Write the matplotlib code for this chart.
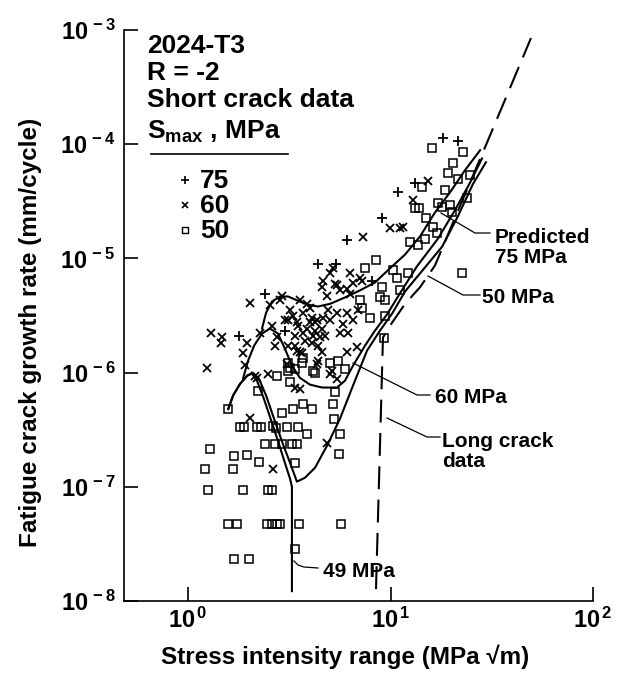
import matplotlib
matplotlib.use("Agg")
import matplotlib.pyplot as plt
from matplotlib.lines import Line2D
from matplotlib.ticker import FuncFormatter, NullLocator, FixedLocator
import numpy as np

plt.rcParams['font.family'] = ['Liberation Sans', 'DejaVu Sans']
plt.rcParams['font.weight'] = 'bold'
plt.rcParams['mathtext.fontset'] = 'custom'
for k in ('rm', 'it', 'bf', 'sf'):
    plt.rcParams['mathtext.' + k] = 'Liberation Sans:bold'

W, H = 641, 674

# short crack data, Smax = 75 MPa (+)
dk_75 = [18.2, 21.5, 10.9, 13.2, 9.08, 6.10, 4.38, 5.38, 8.10, 2.40, 1.79, 3.01]
rate_75 = [1.13e-4, 1.06e-4, 3.8e-5, 4.6e-5, 2.24e-5, 1.44e-5, 8.85e-6, 8.85e-6,
           6.4e-6, 4.9e-6, 2.11e-6, 2.33e-6]

# Smax = 60 MPa (x)
dk_60 = [15.3, 12.9, 11.5, 9.95, 11.1, 7.31, 5.20, 5.03, 6.31, 7.23,
         2.02, 1.30, 1.47, 1.46, 1.24, 1.96, 1.87, 1.91, 2.19, 2.48,
         2.02, 2.63, 4.86, 2.91, 2.85, 3.19, 3.30, 3.12, 3.87, 4.00,
         3.70, 4.10, 4.34, 4.64, 3.87, 4.24, 4.59, 3.70, 4.14, 4.49,
         4.10, 4.38, 4.64, 5.44, 5.63, 6.10, 7.07, 6.31, 5.44, 6.10,
         5.83, 6.53, 5.63, 6.17, 6.91, 2.60, 2.75, 2.69, 3.12, 3.38,
         3.57, 4.59, 6.10, 6.83, 4.38, 5.14, 2.14, 3.08, 2.27, 6.53,
         4.59, 5.32, 3.45, 3.66, 4.34, 5.03, 5.44, 3.38, 3.57, 3.49,
         4.91, 4.00, 3.45, 3.78, 3.38, 4.24, 4.75, 3.01, 5.03, 3.57,
         4.86, 2.54]
rate_60 = [4.8e-5, 3.23e-5, 1.87e-5, 1.83e-5, 1.83e-5, 1.53e-5, 8.3e-6, 7.4e-6, 7.4e-6, 6.4e-6,
           4.1e-6, 2.2e-6, 2.03e-6, 1.8e-6, 1.1e-6, 1.8e-6, 1.47e-6, 1.17e-6, 9.0e-7, 9.8e-7,
           4.0e-7, 1.44e-7, 2.43e-7, 4.7e-6, 4.3e-6, 3.5e-6, 3.16e-6, 2.86e-6, 4.0e-6, 3.65e-6,
           3.3e-6, 3.03e-6, 2.86e-6, 2.98e-6, 2.43e-6, 2.33e-6, 2.43e-6, 2.2e-6, 2.11e-6, 2.03e-6,
           1.83e-6, 1.72e-6, 6.4e-6, 5.8e-6, 5.25e-6, 5.45e-6, 6.7e-6, 4.9e-6, 3.3e-6, 3.35e-6,
           2.69e-6, 2.86e-6, 2.24e-6, 2.2e-6, 3.5e-6, 2.58e-6, 2.03e-6, 1.72e-6, 1.72e-6, 1.72e-6,
           1.5e-6, 1.5e-6, 1.5e-6, 1.66e-6, 1.27e-6, 1.04e-6, 9.4e-7, 1.2e-6, 2.2e-6, 6.15e-6,
           5.6e-6, 6.0e-6, 1.56e-6, 1.47e-6, 1.2e-6, 9.8e-7, 8.85e-7, 7.4e-7, 7.25e-7, 2.58e-6,
           3.5e-6, 2.75e-6, 2.75e-6, 1.91e-6, 2.11e-6, 2.75e-6, 2.11e-6, 2.86e-6, 2.86e-6, 4.3e-6,
           4.7e-6, 3.9e-6]

# Smax = 50 MPa (open squares)
dk_50 = [16.0, 22.8, 20.4, 19.2, 21.5, 24.7, 18.6, 23.9, 17.2, 18.0,
         19.7, 20.1, 14.3, 13.2, 13.8, 15.0, 16.2, 17.0, 12.5, 13.7,
         14.8, 8.48, 7.48, 10.3, 10.8, 12.2, 22.5, 9.08, 11.1, 8.87,
         9.39, 7.07, 7.23, 7.92, 9.29, 9.39, 3.70, 3.66, 5.03, 5.50,
         5.96, 4.14, 2.75, 3.19, 3.12, 3.12, 3.38, 4.24, 3.19, 1.58,
         2.22, 1.81, 1.89, 2.19, 2.29, 2.63, 2.72, 3.08, 3.49, 2.91,
         3.30, 3.70, 4.10, 3.87, 2.40, 2.69, 2.91, 3.26, 3.45, 1.28,
         1.69, 1.96, 2.24, 3.38, 1.21, 1.67, 1.26, 1.87, 2.48, 2.60,
         1.58, 1.75, 2.45, 2.60, 2.75, 2.85, 3.53, 5.70, 1.69, 2.00,
         3.38, 5.20, 5.26, 5.63, 5.57, 5.32]
rate_50 = [9.2e-5, 8.5e-5, 6.8e-5, 5.6e-5, 5.0e-5, 5.35e-5, 3.95e-5, 3.36e-5, 3.03e-5, 2.8e-5,
           2.92e-5, 2.53e-5, 4.2e-5, 2.75e-5, 2.75e-5, 2.24e-5, 1.87e-5, 1.66e-5, 1.38e-5, 1.3e-5,
           1.47e-5, 9.6e-6, 8.2e-6, 7.85e-6, 6.7e-6, 7.5e-6, 7.5e-6, 5.6e-6, 5.25e-6, 4.55e-6,
           4.3e-6, 4.3e-6, 3.7e-6, 3.03e-6, 1.99e-6, 3.16e-6, 1.35e-6, 1.22e-6, 1.22e-6, 1.27e-6,
           1.08e-6, 1.04e-6, 9.4e-7, 1.1e-6, 1.04e-6, 1.22e-6, 1.08e-6, 1.0e-6, 8.2e-7, 4.8e-7,
           6.95e-7, 3.35e-7, 3.35e-7, 3.35e-7, 3.35e-7, 3.4e-7, 3.3e-7, 3.35e-7, 3.35e-7, 4.4e-7,
           4.8e-7, 5.35e-7, 4.8e-7, 2.92e-7, 2.38e-7, 2.38e-7, 2.38e-7, 2.38e-7, 2.38e-7, 2.15e-7,
           1.87e-7, 1.91e-7, 1.66e-7, 1.62e-7, 1.44e-7, 1.44e-7, 9.4e-8, 9.4e-8, 9.4e-8, 9.4e-8,
           4.7e-8, 4.7e-8, 4.7e-8, 4.7e-8, 4.7e-8, 4.7e-8, 4.7e-8, 4.7e-8, 2.33e-8, 2.33e-8,
           2.86e-8, 5.35e-7, 3.95e-7, 2.92e-7, 1.95e-7, 6.7e-7]

# predicted curves
pred75_dk = [2.32, 2.43, 2.60, 2.85, 3.12, 3.45, 3.87, 4.38, 5.03, 5.96,
             7.07, 8.38, 9.95, 11.8, 14.0, 16.6, 19.7, 23.3, 27.7]
pred75_rate = [2.43e-6, 3.35e-6, 4.2e-6, 4.64e-6, 4.64e-6, 4.3e-6, 3.95e-6, 3.79e-6, 4.0e-6, 4.55e-6,
               5.25e-6, 6.15e-6, 8.2e-6, 1.08e-5, 1.56e-5, 2.53e-5, 3.8e-5, 5.9e-5, 8.85e-5]

pred60_dk = [1.87, 1.98, 2.12, 2.32, 2.54, 2.78, 3.01, 3.26, 3.57, 4.00, 4.59, 5.44,
             5.96, 6.53, 7.48, 8.38, 9.61, 11.1, 13.5, 17.2, 20.8, 24.7, 28.3]
pred60_rate = [8.85e-7, 1.27e-6, 1.72e-6, 2.2e-6, 2.43e-6, 2.2e-6, 1.62e-6, 1.15e-6, 9.0e-7, 7.85e-7,
               7.4e-7, 7.4e-7, 8.5e-7, 1.15e-6, 1.72e-6, 2.33e-6, 3.23e-6, 4.9e-6, 8.5e-6, 1.5e-5,
               2.64e-5, 4.6e-5, 7.5e-5]

pred50_dk = [1.58, 1.67, 1.81, 1.96, 2.09, 2.24, 2.43, 2.66, 2.94, 3.23, 3.45, 3.78, 4.24,
             4.86, 5.63, 6.53, 7.66, 8.87, 10.2, 11.8, 14.0, 18.0, 21.5, 25.5, 29.6]
pred50_rate = [4.8e-7, 6.3e-7, 8.0e-7, 9.4e-7, 1.0e-6, 8.85e-7, 6.3e-7, 3.95e-7, 2.38e-7, 1.53e-7,
               1.11e-7, 1.2e-7, 1.47e-7, 2.29e-7, 3.95e-7, 7.7e-7, 1.56e-6, 2.33e-6, 3.3e-6, 5.14e-6,
               7.4e-6, 1.27e-5, 2.33e-5, 4.46e-5, 6.95e-5]

pred49_dk = [1.58, 1.67, 1.81, 1.96, 2.07, 2.19, 2.35, 2.54, 2.78, 3.01, 3.19, 3.26, 3.26]
pred49_rate = [4.8e-7, 6.3e-7, 8.0e-7, 9.4e-7, 9.8e-7, 8.5e-7, 6.15e-7, 4.1e-7, 2.53e-7, 1.62e-7,
               1.18e-7, 1.0e-7, 1.22e-8]

# long crack data
long_dk = [8.48, 9.18, 9.95, 11.8, 14.0, 16.6, 22.0, 29.3, 38.9, 49.4]
long_rate = [1.27e-8, 2.03e-6, 2.58e-6, 4.0e-6, 5.6e-6, 8.7e-6, 2.86e-5, 9.4e-5, 3.1e-4, 8.5e-4]

x_ticks = [1, 10, 100]
y_ticks = [1e-8, 1e-7, 1e-6, 1e-5, 1e-4, 1e-3]

fig = plt.figure(figsize=(W / 100, H / 100), dpi=100)
ax = fig.add_axes([124 / W, 73 / H, (593 - 124) / W, (601 - 30) / H])
ax.set_xscale('log')
ax.set_yscale('log')
ax.set_xlim(0.483, 100)
ax.set_ylim(1e-8, 1e-3)

lw = 1.5
for xs, ys in [(pred75_dk, pred75_rate), (pred60_dk, pred60_rate),
               (pred50_dk, pred50_rate), (pred49_dk, pred49_rate)]:
    ax.plot(xs, ys, color='black', lw=lw, solid_joinstyle='round')
ax.plot(long_dk, long_rate, color='black', lw=lw, linestyle=(0, (11, 5)))

ax.plot(dk_50, rate_50, linestyle='none', marker='s', ms=5.2, mfc='none',
        mec='black', mew=1.1)
ax.plot(dk_60, rate_60, linestyle='none', marker='x', ms=5.8, mec='black', mew=1.3)
ax.plot(dk_75, rate_75, linestyle='none', marker='+', ms=7, mec='black', mew=1.3)

for s in ('top', 'right'):
    ax.spines[s].set_visible(False)
for s in ('left', 'bottom'):
    ax.spines[s].set_linewidth(1.2)

ax.xaxis.set_major_locator(FixedLocator(x_ticks))
ax.yaxis.set_major_locator(FixedLocator(y_ticks))
ax.xaxis.set_minor_locator(NullLocator())
ax.yaxis.set_minor_locator(NullLocator())
fmt = FuncFormatter(lambda v, p: r'$10^{\,%d}$' % int(round(np.log10(v))))
ax.xaxis.set_major_formatter(fmt)
ax.yaxis.set_major_formatter(fmt)
ax.tick_params(direction='in', length=10, width=1.2, labelsize=17)
ax.tick_params(axis='x', pad=5)
ax.tick_params(axis='y', pad=6)


def ftext(x, y, s, size=19, **kw):
    fig.text(x / W, 1 - y / H, s, fontsize=size, fontweight='bold',
             ha=kw.pop('ha', 'left'), va=kw.pop('va', 'baseline'), **kw)


def fline(xs, ys, lw=0.9):
    fig.add_artist(Line2D([x / W for x in xs], [1 - y / H for y in ys],
                          color='black', lw=lw, transform=fig.transFigure))


# axis labels
ftext(31, 332, 'Fatigue crack growth rate (mm/cycle)', size=17.5,
      ha='center', va='center', rotation=90)
ftext(345, 664, 'Stress intensity range (MPa \u221am)', size=17.5, ha='center')

# title block and legend
ftext(147, 53, '2024-T3')
ftext(147, 80, 'R = -2')
ftext(147, 107, 'Short crack data')
ftext(147, 139, r'S$_{\mathrm{max}}$ , MPa')
fline([151, 288], [154, 154], lw=1.2)

legend_rows = [('+', '75', 6, 1.2), ('x', '60', 4.5, 1.2), ('s', '50', 4.5, 1.0)]
for i, (m, lab, ms, mew) in enumerate(legend_rows):
    yy = 180 + 25 * i
    fig.add_artist(Line2D([185 / W], [1 - yy / H], marker=m, ms=ms, mfc='none',
                          mec='black', mew=mew, linestyle='none',
                          transform=fig.transFigure))
    ftext(200, yy + 8, lab)

# curve annotations with leaders
ftext(495, 243, 'Predicted', size=15)
ftext(495, 263, '75 MPa', size=15)
fline([490, 475, 441], [233, 233, 213])

ftext(482, 303, '50 MPa', size=15)
fline([480, 463, 428], [295, 295, 276])

ftext(435, 403, '60 MPa', size=15)
fline([430, 417, 353], [395, 395, 363])

ftext(442, 447, 'Long crack', size=15)
ftext(442, 467, 'data', size=15)
fline([440, 427, 387], [437, 437, 418])

ftext(323, 577, '49 MPa', size=15)
fline([318, 304, 298, 294], [568, 567, 565, 561])

fig.savefig('out.png', dpi=100)
